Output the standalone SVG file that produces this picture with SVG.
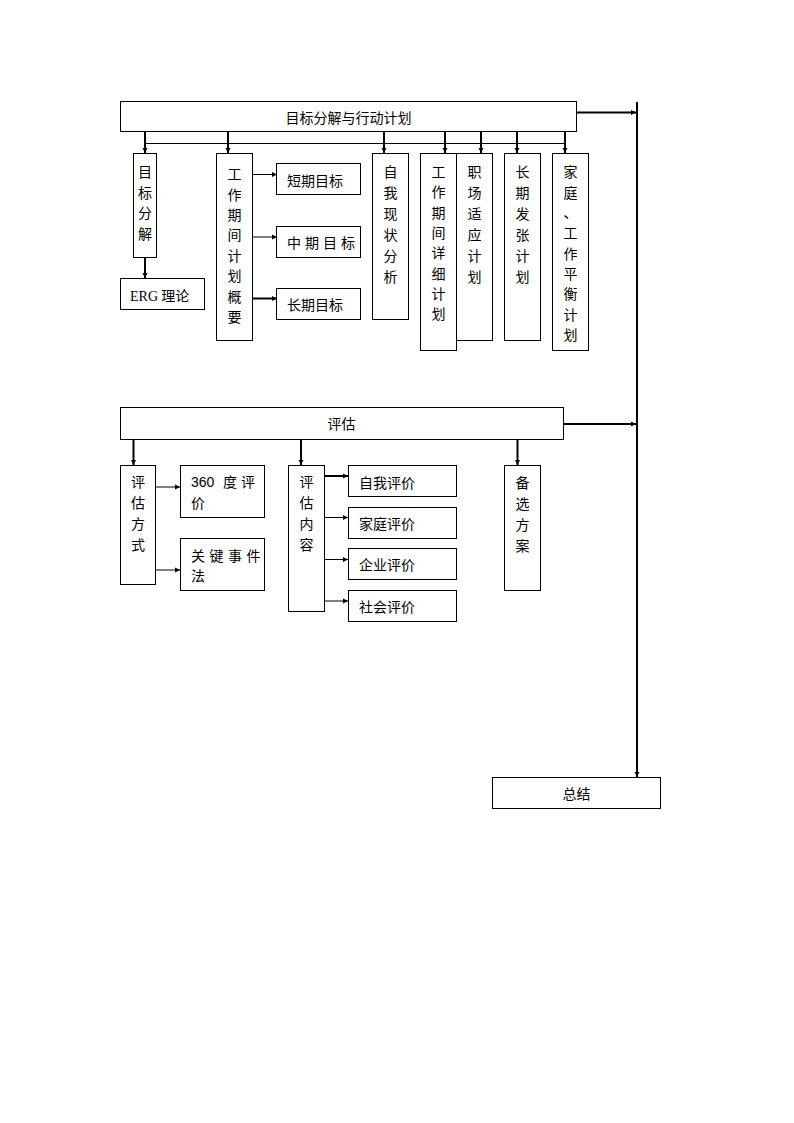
<svg xmlns="http://www.w3.org/2000/svg" width="794" height="1123" viewBox="0 0 794 1123">
<defs>
<marker id="ah" markerUnits="userSpaceOnUse" markerWidth="6" markerHeight="6" refX="5" refY="3" orient="auto">
<path d="M0,0.5 L5,3 L0,5.5 z" fill="#000"/>
</marker>
<style>
rect{fill:#fff;stroke:#000;stroke-width:1}
text{font-family:"Noto Sans CJK SC","Liberation Sans",sans-serif;font-size:14px;fill:#000}
.v{text-anchor:middle}
.c{text-anchor:middle}
.ln{stroke:#000;fill:none;stroke-width:1}
.tk{stroke:#000;fill:none;stroke-width:2}
</style>
</defs>
<rect width="794" height="1123" style="fill:#fff;stroke:none"/>

<g id="connectors">
<line class="ln" x1="144" y1="143.5" x2="565" y2="143.5"/>
<line class="tk" x1="145" y1="132" x2="145" y2="153" marker-end="url(#ah)"/>
<line class="tk" x1="228" y1="132" x2="228" y2="153" marker-end="url(#ah)"/>
<line class="tk" x1="384" y1="132" x2="384" y2="153" marker-end="url(#ah)"/>
<line class="tk" x1="445" y1="132" x2="445" y2="153" marker-end="url(#ah)"/>
<line class="tk" x1="481" y1="132" x2="481" y2="153" marker-end="url(#ah)"/>
<line class="tk" x1="517" y1="132" x2="517" y2="153" marker-end="url(#ah)"/>
<line class="tk" x1="565" y1="132" x2="565" y2="153" marker-end="url(#ah)"/>
<line class="tk" x1="145" y1="257" x2="145" y2="278" marker-end="url(#ah)"/>
<line class="ln" x1="253" y1="174.5" x2="277" y2="174.5" marker-end="url(#ah)"/>
<line class="ln" x1="253" y1="237" x2="277" y2="237" marker-end="url(#ah)"/>
<line class="tk" x1="253" y1="298.5" x2="277" y2="298.5" marker-end="url(#ah)"/>
<line class="tk" x1="577" y1="112.5" x2="636" y2="112.5" marker-end="url(#ah)"/>
<line class="tk" x1="637" y1="102" x2="637" y2="777" marker-end="url(#ah)"/>
<line class="tk" x1="563" y1="424" x2="636" y2="424" marker-end="url(#ah)"/>
<line class="tk" x1="133.5" y1="439" x2="133.5" y2="465" marker-end="url(#ah)"/>
<line class="tk" x1="301" y1="439" x2="301" y2="465" marker-end="url(#ah)"/>
<line class="tk" x1="517.5" y1="439" x2="517.5" y2="465" marker-end="url(#ah)"/>
<line class="ln" x1="156" y1="487" x2="180" y2="487" marker-end="url(#ah)"/>
<line class="ln" x1="156" y1="570" x2="180" y2="570" marker-end="url(#ah)"/>
<line class="tk" x1="324" y1="476" x2="348" y2="476" marker-end="url(#ah)"/>
<line class="ln" x1="324" y1="517.5" x2="348" y2="517.5" marker-end="url(#ah)"/>
<line class="ln" x1="324" y1="559.5" x2="348" y2="559.5" marker-end="url(#ah)"/>
<line class="ln" x1="324" y1="601" x2="348" y2="601" marker-end="url(#ah)"/>
</g>

<g id="n-top"><rect x="120.5" y="101.5" width="456" height="30"/><text class="c" x="348.5" y="123">目标分解与行动计划</text></g>

<g id="n-mbfj"><rect x="133.5" y="153.5" width="23" height="104"/>
<text class="v"><tspan x="145" y="177">目</tspan><tspan x="145" y="198">标</tspan><tspan x="145" y="218">分</tspan><tspan x="145" y="239">解</tspan></text></g>

<g id="n-erg"><rect x="120.5" y="278.5" width="84" height="31"/><text x="130" y="301"><tspan style="font-family:'Liberation Serif',serif">ERG</tspan> 理论</text></g>

<g id="n-gzqj"><rect x="216.5" y="153.5" width="36" height="187"/>
<text class="v"><tspan x="234.5" y="179">工</tspan><tspan x="234.5" y="199.5">作</tspan><tspan x="234.5" y="220">期</tspan><tspan x="234.5" y="240">间</tspan><tspan x="234.5" y="260.5">计</tspan><tspan x="234.5" y="281">划</tspan><tspan x="234.5" y="301.5">概</tspan><tspan x="234.5" y="322">要</tspan></text></g>

<g id="n-dq"><rect x="276.5" y="163.5" width="84" height="31"/><text x="287" y="186">短期目标</text></g>
<g id="n-zq"><rect x="276.5" y="226.5" width="84" height="31"/><text x="287" y="248" style="letter-spacing:4px">中期目标</text></g>
<g id="n-cq"><rect x="276.5" y="288.5" width="84" height="31"/><text x="287" y="310">长期目标</text></g>

<g id="n-zwxz"><rect x="372.5" y="153.5" width="36" height="166"/>
<text class="v"><tspan x="390.5" y="177">自</tspan><tspan x="390.5" y="198">我</tspan><tspan x="390.5" y="219">现</tspan><tspan x="390.5" y="240">状</tspan><tspan x="390.5" y="261">分</tspan><tspan x="390.5" y="282">析</tspan></text></g>

<g id="n-gzxx"><rect x="420.5" y="153.5" width="36" height="197"/>
<text class="v"><tspan x="438.5" y="177">工</tspan><tspan x="438.5" y="197">作</tspan><tspan x="438.5" y="218">期</tspan><tspan x="438.5" y="238">间</tspan><tspan x="438.5" y="258">详</tspan><tspan x="438.5" y="278.5">细</tspan><tspan x="438.5" y="299">计</tspan><tspan x="438.5" y="319">划</tspan></text></g>

<g id="n-zcsy"><rect x="456.5" y="153.5" width="36" height="187"/>
<text class="v"><tspan x="474.5" y="177">职</tspan><tspan x="474.5" y="198">场</tspan><tspan x="474.5" y="219">适</tspan><tspan x="474.5" y="240">应</tspan><tspan x="474.5" y="261">计</tspan><tspan x="474.5" y="282">划</tspan></text></g>

<g id="n-cqfz"><rect x="504.5" y="153.5" width="36" height="187"/>
<text class="v"><tspan x="522.5" y="177">长</tspan><tspan x="522.5" y="198">期</tspan><tspan x="522.5" y="219">发</tspan><tspan x="522.5" y="240">张</tspan><tspan x="522.5" y="261">计</tspan><tspan x="522.5" y="282">划</tspan></text></g>

<g id="n-jtgz"><rect x="552.5" y="153.5" width="36" height="197"/>
<text class="v"><tspan x="570.5" y="177">家</tspan><tspan x="570.5" y="197.5">庭</tspan><tspan x="570.5" y="218">、</tspan><tspan x="570.5" y="238">工</tspan><tspan x="570.5" y="258.5">作</tspan><tspan x="570.5" y="279">平</tspan><tspan x="570.5" y="299">衡</tspan><tspan x="570.5" y="319.5">计</tspan><tspan x="570.5" y="340">划</tspan></text></g>

<g id="n-pg"><rect x="120.5" y="407.5" width="443" height="32"/><text class="c" x="341.5" y="429">评估</text></g>

<g id="n-pgfs"><rect x="120.5" y="465.5" width="35" height="119"/>
<text class="v"><tspan x="138" y="487">评</tspan><tspan x="138" y="508">估</tspan><tspan x="138" y="529">方</tspan><tspan x="138" y="550">式</tspan></text></g>

<g id="n-360"><rect x="180.5" y="465.5" width="84" height="52"/>
<text x="191" y="487"><tspan style="font-family:'Liberation Sans',sans-serif">360</tspan><tspan x="223">度</tspan><tspan x="241">评</tspan><tspan x="191" y="508">价</tspan></text></g>

<g id="n-gjsj"><rect x="180.5" y="538.5" width="84" height="52"/>
<text x="191" y="561" style="letter-spacing:4.5px">关键事件<tspan x="191" y="581">法</tspan></text></g>

<g id="n-pgnr"><rect x="288.5" y="465.5" width="36" height="146"/>
<text class="v"><tspan x="306.5" y="487">评</tspan><tspan x="306.5" y="508">估</tspan><tspan x="306.5" y="529">内</tspan><tspan x="306.5" y="550">容</tspan></text></g>

<g id="n-zwpj"><rect x="348.5" y="465.5" width="108" height="31"/><text x="359" y="488">自我评价</text></g>
<g id="n-jtpj"><rect x="348.5" y="507.5" width="108" height="31"/><text x="359" y="529">家庭评价</text></g>
<g id="n-qypj"><rect x="348.5" y="548.5" width="108" height="31"/><text x="359" y="570">企业评价</text></g>
<g id="n-shpj"><rect x="348.5" y="590.5" width="108" height="31"/><text x="359" y="612">社会评价</text></g>

<g id="n-bxfa"><rect x="504.5" y="465.5" width="36" height="125"/>
<text class="v"><tspan x="522.5" y="488">备</tspan><tspan x="522.5" y="509">选</tspan><tspan x="522.5" y="530">方</tspan><tspan x="522.5" y="551">案</tspan></text></g>

<g id="n-zj"><rect x="492.5" y="777.5" width="168" height="31"/><text class="c" x="576.5" y="799">总结</text></g>
</svg>
